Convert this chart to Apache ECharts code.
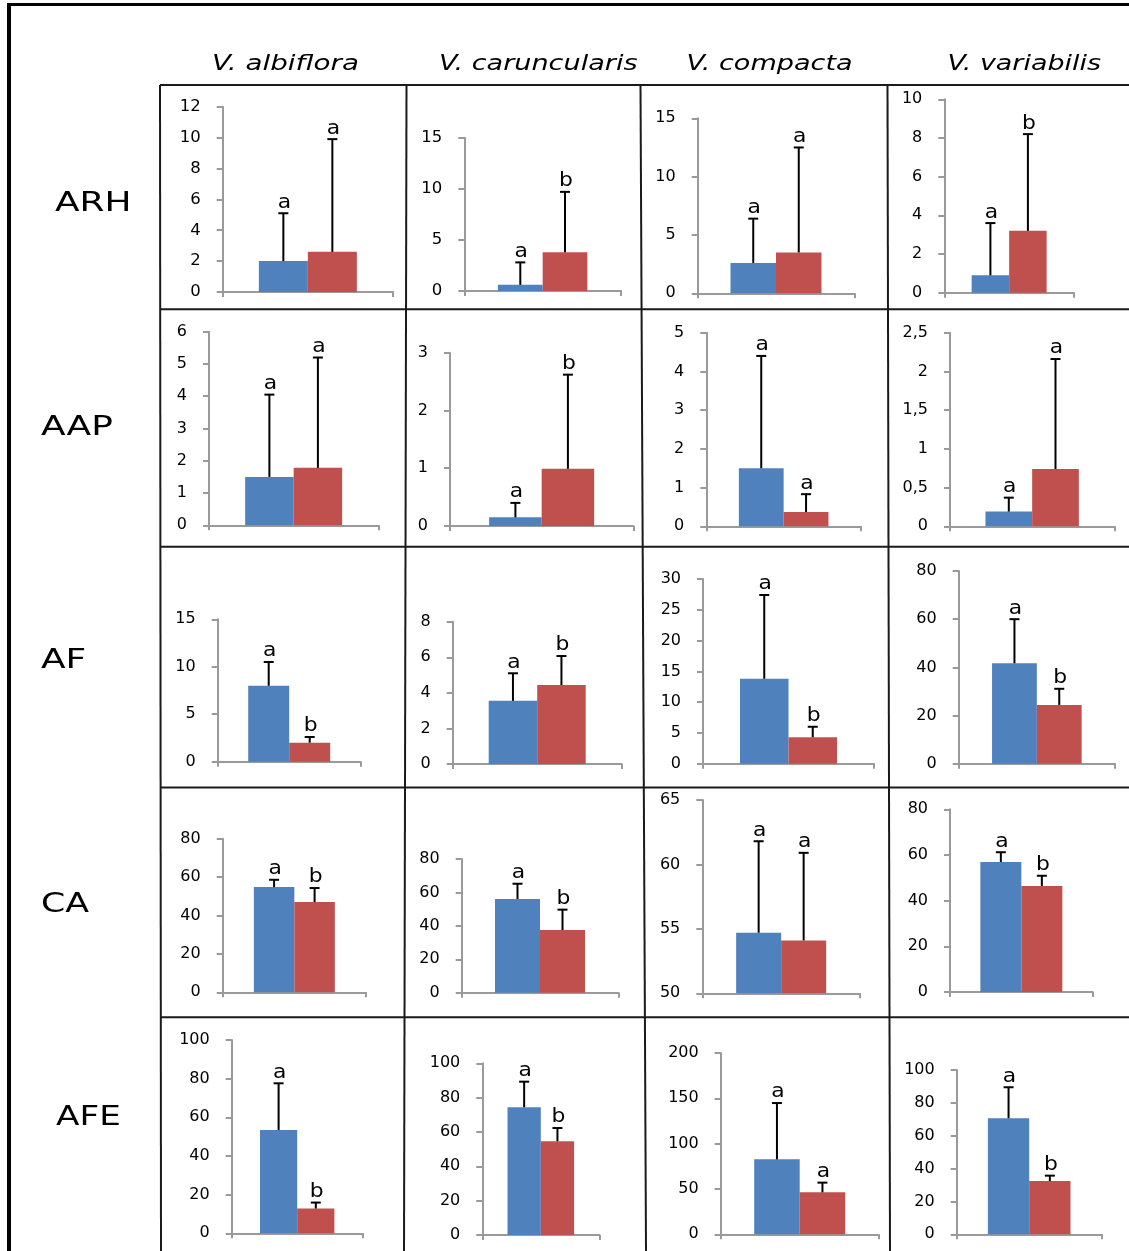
<!DOCTYPE html>
<html><head><meta charset="utf-8">
<script src="https://cdn.jsdelivr.net/npm/echarts@6/dist/echarts.min.js"></script>
<style>html,body{margin:0;padding:0;background:#fff}#c{width:1129px;height:1251px}</style>
</head><body><div id="c"></div>
<script>
// ---------- data ----------
const species = ['V. albiflora', 'V. caruncularis', 'V. compacta', 'V. variabilis'];
const traits = ['ARH', 'AAP', 'AF', 'CA', 'AFE'];
// panels in reading order: row (trait) by row, column (species) within row
const blueMean = [2.0, 0.6, 2.6, 0.9,  1.5, 0.15, 1.5, 0.19,  8.0, 3.55, 13.8, 41.7,  54.8, 56.1, 54.7, 56.9,  53.4, 74.4, 82.7, 70.6];
const blueSD   = [3.1, 2.2, 3.8, 2.7,  2.55, 0.25, 2.9, 0.18,  2.5, 1.55, 13.6, 18.3,  3.8, 9.1, 7.1, 4.3,  24.2, 14.9, 62.1, 18.9];
const redMean  = [2.6, 3.8, 3.5, 3.2,  1.78, 0.99, 0.37, 0.74,  2.0, 4.44, 4.3, 24.4,  47.0, 37.5, 54.1, 46.4,  12.8, 54.6, 46.3, 32.4];
const redSD    = [7.3, 5.9, 9.0, 5.0,  3.42, 1.63, 0.46, 1.42,  0.6, 1.63, 1.7, 6.7,  7.3, 12.2, 6.8, 4.5,  3.1, 7.7, 10.7, 3.3];
const blueLetters = ['a','a','a','a', 'a','a','a','a', 'a','a','a','a', 'a','a','a','a', 'a','a','a','a'];
const redLetters  = ['a','b','a','b', 'a','b','a','a', 'b','b','b','b', 'b','b','a','b', 'b','b','a','b'];
const axisMin  = [0,0,0,0, 0,0,0,0, 0,0,0,0, 0,0,50,0, 0,0,0,0];
const axisMax  = [12,15,15,10, 6,3,5,2.5, 15,8,30,80, 80,80,65,80, 100,100,200,100];
const axisStep = [2,5,5,2, 1,1,1,0.5, 5,2,5,20, 20,20,5,20, 20,20,50,20];

// ---------- layout (pixels) ----------
// [y-axis x, top (max tick) y, x-axis right end, bottom (min tick) y]
const panelBox = [
  [222.7,106.7,393,292],[464.3,137.7,621,291],[697.7,118.3,854.3,293.3],[944.3,99.3,1074,292.7],
  [209,331.7,378.3,525.3],[450,352.7,633.3,526],[706.3,332.7,861,526.3],[950,332.7,1114.3,526.3],
  [217.7,619.3,360.7,761.7],[452.7,621.7,621.7,764],[703,579,874,763.7],[958.7,571,1115,763.7],
  [222.7,838.7,366,992.3],[461.7,859,618.3,992.7],[702.3,800,860,993.3],[950,809.3,1092.7,992],
  [231.7,1040,362.7,1233.3],[482.3,1063.3,599.3,1235],[720.7,1053,878.7,1234.3],[956.7,1070,1101.7,1234.3]
];
const barW = [49,44.7,45.5,37.5, 48.5,52.5,44.8,46.7, 41,48.5,48.5,44.8, 40.5,45,45,41, 37.2,33.3,45.5,41.3];
const tickFont = [16.5,16.5,16,16, 16,16,16,16, 16,16,16,16, 16,16,16,16, 16,16,16,16];
const headerPos = [[285.5,145],[538.3,196.7],[769.5,164.4],[1024.2,151.7]]; // center x, target width
const rowLabelPos = [[55,204,73],[41,428,71],[41,661,44],[41,905,47],[56,1118,63]]; // left x, mid y, width

const BLUE = '#4F81BD', RED = '#C0504D', AXIS = '#9a9a9a', FONT = '"DejaVu Sans", Verdana, sans-serif';

const mctx = document.createElement('canvas').getContext('2d');
function inkWidth(text, font) {
  mctx.font = font;
  const m = mctx.measureText(text);
  const w = (m.actualBoundingBoxLeft || 0) + (m.actualBoundingBoxRight || 0);
  return w > 0 ? w : m.width;
}

const grids = [], xAxes = [], yAxes = [], series = [];
for (let i = 0; i < 20; i++) {
  const [ax, ty, xe, by] = panelBox[i];
  grids.push({ left: ax, top: ty, width: xe - ax, height: by - ty, containLabel: false });
  xAxes.push({
    gridIndex: i, type: 'category', data: [''],
    axisLine: { show: true, lineStyle: { color: AXIS, width: 2 } },
    axisTick: { show: true, length: 5, lineStyle: { color: AXIS, width: 2 } },
    axisLabel: { show: false }, splitLine: { show: false }
  });
  yAxes.push({
    gridIndex: i, type: 'value', min: axisMin[i], max: axisMax[i], interval: axisStep[i],
    axisLine: { show: true, lineStyle: { color: AXIS, width: 2 } },
    axisTick: { show: true, length: 6, lineStyle: { color: AXIS, width: 2 } },
    splitLine: { show: false },
    axisLabel: { color: '#000', fontSize: tickFont[i], fontFamily: FONT, margin: 22,
      formatter: v => String(v).replace('.', ',') }
  });
  const bw = barW[i];
  series.push({ type: 'bar', xAxisIndex: i, yAxisIndex: i, data: [blueMean[i]], barWidth: bw, barGap: '0%',
    itemStyle: { color: BLUE }, silent: true });
  series.push({ type: 'bar', xAxisIndex: i, yAxisIndex: i, data: [redMean[i]], barWidth: bw, barGap: '0%',
    itemStyle: { color: RED }, silent: true });
  const mk = (side, letter) => function (params, api) {
    const m = api.value(1), sd = api.value(2);
    const base = api.coord([api.value(0), m]);
    const top = api.coord([api.value(0), m + sd]);
    const cx = base[0] + side * bw / 2;
    return { type: 'group', children: [
      { type: 'line', shape: { x1: cx, y1: base[1], x2: cx, y2: top[1] }, style: { stroke: '#000', lineWidth: 2 } },
      { type: 'line', shape: { x1: cx - 5, y1: top[1], x2: cx + 5, y2: top[1] }, style: { stroke: '#000', lineWidth: 2 } },
      { type: 'text', x: cx + 1, y: top[1] - 1, scaleX: 1.15,
        style: { text: letter, fill: '#000', fontSize: 19, fontFamily: FONT,
          align: 'center', verticalAlign: 'bottom', textAlign: 'center', textVerticalAlign: 'bottom' } }
    ] };
  };
  series.push({ type: 'custom', xAxisIndex: i, yAxisIndex: i, z: 10, silent: true,
    data: [[0, blueMean[i], blueSD[i]]], renderItem: mk(-1, blueLetters[i]) });
  series.push({ type: 'custom', xAxisIndex: i, yAxisIndex: i, z: 10, silent: true,
    data: [[0, redMean[i], redSD[i]]], renderItem: mk(1, redLetters[i]) });
}

// ---------- table frame & labels ----------
const LINE = '#1a1a1a';
const elements = [];
elements.push({ type: 'line', shape: { x1: 9, y1: 3, x2: 9, y2: 1251 }, style: { stroke: '#000', lineWidth: 4 } });
elements.push({ type: 'line', shape: { x1: 7, y1: 4.5, x2: 1129, y2: 4.5 }, style: { stroke: '#000', lineWidth: 3 } });
[85, 309.3, 546.7, 787.5, 1017.3].forEach(y => elements.push({ type: 'line',
  shape: { x1: 160, y1: y, x2: 1129, y2: y }, style: { stroke: LINE, lineWidth: 2 } }));
[[160, 161], [406.5, 404], [640.5, 646], [887.5, 890]].forEach(([a, b]) => elements.push({ type: 'line',
  shape: { x1: a, y1: 85, x2: b, y2: 1251 }, style: { stroke: LINE, lineWidth: 2 } }));

const hFont = 'italic 22px "DejaVu Sans"';
species.forEach((s, k) => {
  const [cx, w] = headerPos[k];
  elements.push({ type: 'text', x: cx, y: 75, scaleX: w / inkWidth(s, hFont),
    style: { text: s, fill: '#000', fontSize: 22, fontStyle: 'italic', fontFamily: FONT,
      align: 'center', verticalAlign: 'bottom', textAlign: 'center', textVerticalAlign: 'bottom' } });
});
const rFont = '26px "DejaVu Sans"';
traits.forEach((t, k) => {
  const [lx, my, w] = rowLabelPos[k];
  elements.push({ type: 'text', x: lx, y: my, scaleX: w / inkWidth(t, rFont),
    style: { text: t, fill: '#000', fontSize: 26, fontFamily: FONT,
      align: 'left', verticalAlign: 'middle', textAlign: 'left', textVerticalAlign: 'middle' } });
});

const chart = echarts.init(document.getElementById('c'), null, { renderer: 'canvas' });
chart.setOption({
  animation: false, backgroundColor: '#fff',
  grid: grids, xAxis: xAxes, yAxis: yAxes, series: series,
  graphic: { elements: elements }
});
</script></body></html>
